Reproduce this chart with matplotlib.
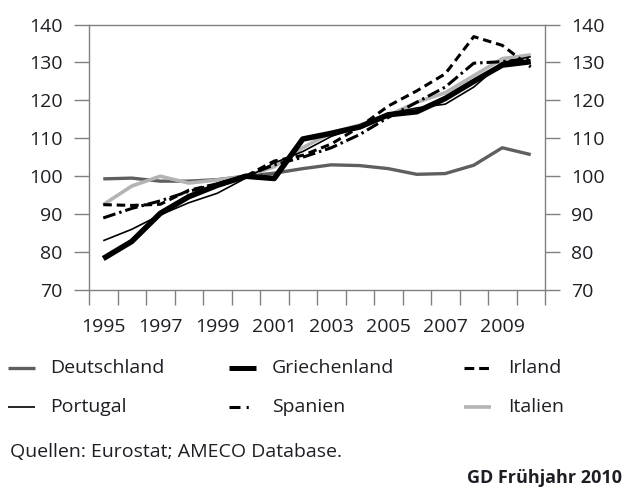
import numpy as np
import matplotlib.pyplot as plt
from matplotlib.lines import Line2D

plt.rcParams["font.family"] = ["Open Sans", "DejaVu Sans"]

years = list(range(1995, 2011))
deutschland = [99.3, 99.5, 98.7, 98.7, 99.1, 100.0, 100.8, 102.0, 103.0, 102.8, 102.0, 100.5, 100.7, 102.9, 107.5, 105.7]
griechenland = [78.3, 82.8, 90.2, 94.6, 97.6, 100.0, 99.4, 109.8, 111.3, 113.0, 116.2, 117.0, 120.5, 125.0, 129.3, 130.2]
irland = [92.5, 92.3, 92.6, 96.3, 98.0, 100.0, 104.0, 105.5, 108.5, 113.0, 118.5, 122.5, 127.0, 136.8, 134.5, 128.8]
portugal = [83.0, 86.0, 89.8, 93.0, 95.5, 99.5, 103.5, 106.5, 110.5, 113.0, 116.5, 118.0, 119.0, 123.5, 130.0, 131.5]
spanien = [89.0, 91.5, 93.5, 96.0, 98.0, 100.0, 103.0, 105.0, 107.5, 111.0, 115.5, 119.5, 123.5, 129.8, 130.2, 131.0]
italien = [92.5, 97.4, 100.0, 98.2, 99.0, 100.0, 102.5, 107.5, 111.5, 113.5, 116.0, 119.5, 122.0, 126.5, 131.0, 132.0]

# (name, values, line style in the plot, line style of the legend key)
series = [
    ("Deutschland", deutschland, dict(color="#5f5f5f", lw=2.4), dict(color="#5f5f5f", lw=2.4)),
    ("Griechenland", griechenland, dict(color="black", lw=4.0), dict(color="black", lw=3.6)),
    ("Irland", irland, dict(color="black", lw=2.2, dashes=(2.8, 1.6)),
     dict(color="black", lw=2.2, dashes=(3.2, 1.6))),
    ("Portugal", portugal, dict(color="black", lw=1.2), dict(color="black", lw=1.2)),
    ("Spanien", spanien, dict(color="black", lw=2.2, dashes=(4.2, 1.3, 0.8, 1.3)),
     dict(color="black", lw=2.2, dashes=(3.6, 2.0, 0.7, 10))),
    ("Italien", italien, dict(color="#b4b4b4", lw=2.6), dict(color="#b4b4b4", lw=2.6)),
]

text_col = "#1e1e24"
frame_col = "#808080"

fig = plt.figure(figsize=(6.24, 4.88), dpi=100)
ax = fig.add_axes([89 / 624, 1 - 290 / 488, 456 / 624, 265.5 / 488])

x = np.arange(len(years))
# draw order: light lines first so the black ones sit on top
for idx in [0, 5, 3, 4, 2, 1]:
    name, vals, kw, _ = series[idx]
    ax.plot(x, vals, solid_capstyle="butt", dash_capstyle="butt", **kw)

ax.set_xlim(-0.5, len(years) - 0.5)
ax.set_ylim(70, 140)

ax.set_xticks(x[::2])
ax.set_xticklabels([str(y) for y in years[::2]])
ax.set_xticks(np.arange(-0.5, len(years)), minor=True)
ax.tick_params(axis="x", which="major", length=0, pad=20, labelsize=14, colors=text_col)
ax.tick_params(axis="x", which="minor", length=11, width=1, color=frame_col, direction="out")

ax.set_yticks(np.arange(70, 141, 10))
ax.tick_params(axis="y", which="major", length=11, width=1, color=frame_col, labelcolor=text_col,
               labelsize=14, pad=8, left=True, right=True, labelleft=True, labelright=True)

for sp in ax.spines.values():
    sp.set_color(frame_col)
    sp.set_linewidth(1)

# legend, three columns by two rows
cols = [(8, 50), (229, 272), (464, 508)]
rows = [368, 407]
for k, (name, vals, _, lkw) in enumerate(series):
    c0, t0 = cols[k % 3]
    yy = 1 - rows[k // 3] / 488
    fig.add_artist(Line2D([c0 / 624, (c0 + 27) / 624], [yy, yy], transform=fig.transFigure,
                          solid_capstyle="butt", dash_capstyle="butt", **lkw))
    fig.text(t0 / 624, yy, name, fontsize=14, color=text_col, va="center", ha="left")

fig.text(10 / 624, 1 - 452 / 488, "Quellen: Eurostat; AMECO Database.", fontsize=14,
         color=text_col, va="center", ha="left")
fig.text(622 / 624, 1 - 478 / 488, "GD Frühjahr 2010", fontsize=13, fontweight="bold",
         color=text_col, va="center", ha="right")

fig.savefig("out.png", dpi=100)
